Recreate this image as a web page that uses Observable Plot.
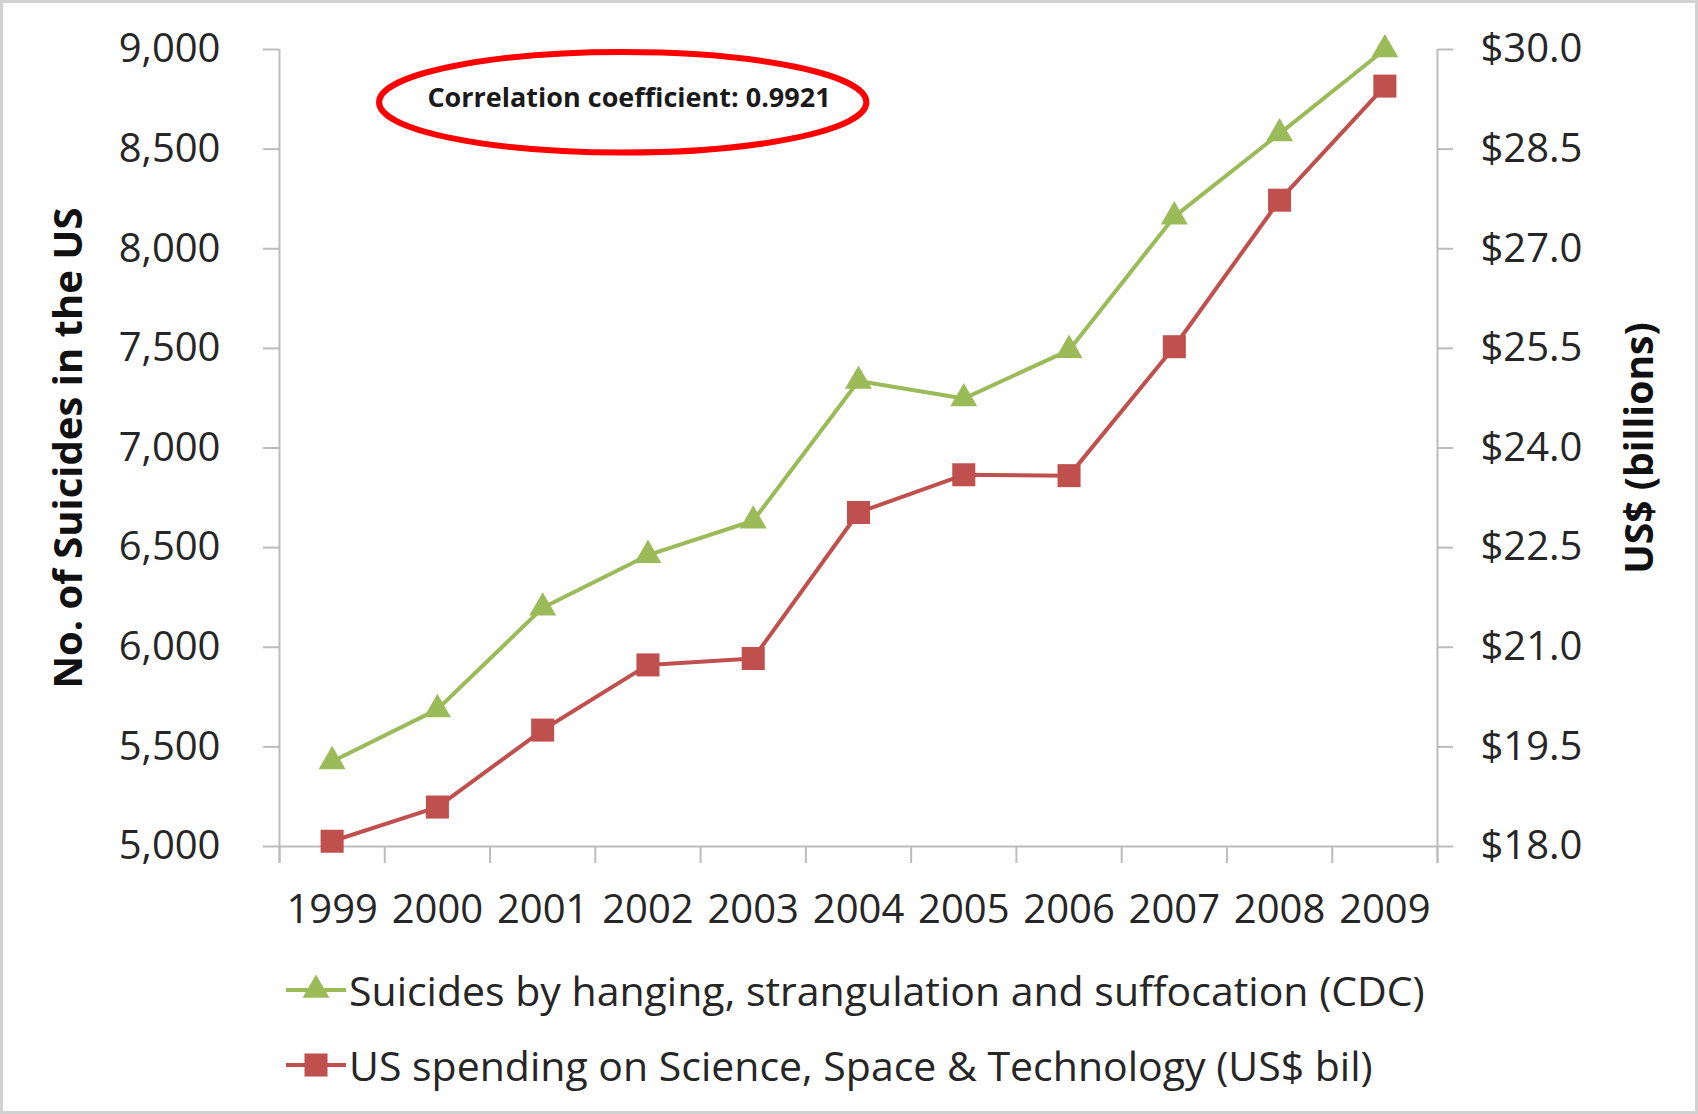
<!DOCTYPE html>
<html>
<head>
<meta charset="utf-8">
<script src="https://cdn.jsdelivr.net/npm/d3@7"></script>
<script src="https://cdn.jsdelivr.net/npm/@observablehq/plot@0.6"></script>
<style>
  html, body { margin: 0; padding: 0; background: #ffffff; }
  #frame { position: relative; width: 1698px; height: 1114px; overflow: hidden; background: #fff;
           font-family: "Open Sans", sans-serif; color: #262626; }
  #chart { position: absolute; left: 0; top: 0; }
  #border { position: absolute; left: 0; top: 0; width: 1698px; height: 1114px; box-sizing: border-box;
            border: 3px solid #d2d2d2; pointer-events: none; }
  #legend { position: absolute; left: 286px; top: 952px; }
  .lg-row { display: flex; align-items: center; height: 75px; font-size: 41px; color: #262626; white-space: nowrap; }
  .lg-row svg { flex: none; margin-right: 3px; }
</style>
</head>
<body>
<div id="frame">
  <div id="chart"></div>
  <div id="legend"></div>
  <div id="border"></div>
</div>
<script>
// ---------- data ----------
const years = [1999, 2000, 2001, 2002, 2003, 2004, 2005, 2006, 2007, 2008, 2009];
const suicides = [5427, 5688, 6198, 6462, 6635, 7336, 7248, 7491, 8161, 8578, 9000];
const spending = [18.079, 18.594, 19.753, 20.734, 20.831, 23.029, 23.597, 23.584, 25.525, 27.731, 29.449];
const leftTicks = [5000, 5500, 6000, 6500, 7000, 7500, 8000, 8500, 9000];
const rightTicks = [18.0, 19.5, 21.0, 22.5, 24.0, 25.5, 27.0, 28.5, 30.0];
const seriesNames = [
  "Suicides by hanging, strangulation and suffocation (CDC)",
  "US spending on Science, Space & Technology (US$ bil)"
];
const leftTitle = "No. of Suicides in the US";
const rightTitle = "US$ (billions)";
const annotation = [{ x: 2001.82, y: 8755, label: "Correlation coefficient: 0.9921" }];
const annotationBox = { x1: 1999.45, x2: 2004.08, y1: 8480, y2: 8985 };

// ---------- styles ----------
const GREEN = "#9bbb59";
const RED = "#c0504d";
const AXIS = "#bcbcbc";
const TEXT = "#262626";

// right axis ($ bil) mapped onto the left axis (count) domain
const r0 = rightTicks[0], r1 = rightTicks[rightTicks.length - 1];
const l0 = leftTicks[0], l1 = leftTicks[leftTicks.length - 1];
const toLeft = v => l0 + (v - r0) * (l1 - l0) / (r1 - r0);
const fromLeft = v => r0 + (v - l0) * (r1 - r0) / (l1 - l0);

const rows = years.map((yr, i) => ({ year: yr, suicides: suicides[i], spending: toLeft(spending[i]) }));
const boundaries = years.map(y => y - 0.5).concat([years[years.length - 1] + 0.5]);

const W = 1698, H = 950;
const plot = Plot.plot({
  width: W,
  height: H,
  marginTop: 49,
  marginBottom: H - 846,
  marginLeft: 279,
  marginRight: W - 1437,
  style: { fontFamily: '"Open Sans", sans-serif', color: TEXT, background: "transparent", overflow: "visible" },
  x: { type: "linear", domain: [boundaries[0], boundaries[boundaries.length - 1]] },
  y: { type: "linear", domain: [l0, l1] },
  marks: [
    // axis frame lines
    Plot.ruleY([l0], { stroke: AXIS, strokeWidth: 2 }),
    Plot.ruleX([boundaries[0], boundaries[boundaries.length - 1]], { stroke: AXIS, strokeWidth: 2, insetBottom: -17 }),
    // category boundary ticks
    Plot.axisX({ ticks: boundaries, tickSize: 17, tickFormat: () => "", stroke: AXIS, strokeWidth: 2, label: null }),
    // year labels
    Plot.axisX({ ticks: years, tickSize: 0, tickPadding: 48, tickFormat: d => String(d), fontSize: 40,
                 fill: TEXT, label: null }),
    // left axis
    Plot.axisY({ ticks: leftTicks, tickSize: 16, tickPadding: 43, tickFormat: d3.format(","), fontSize: 40,
                 stroke: AXIS, strokeWidth: 2, fill: TEXT, label: null }),
    // right axis
    Plot.axisY({ anchor: "right", ticks: rightTicks.map(toLeft), tickSize: 15, tickPadding: 28,
                 tickFormat: d => "$" + fromLeft(d).toFixed(1), fontSize: 40,
                 stroke: AXIS, strokeWidth: 2, fill: TEXT, label: null }),
    // axis titles
    Plot.text([leftTitle], { text: d => d, frameAnchor: "left", textAnchor: "middle", lineAnchor: "middle",
                             dx: -210, rotate: -90, fontSize: 40, fontWeight: "bold", fill: "#111" }),
    Plot.text([rightTitle], { text: d => d, frameAnchor: "right", textAnchor: "middle", lineAnchor: "middle",
                              dx: 203, rotate: -90, fontSize: 39, fontWeight: "bold", fill: "#111" }),
    // series
    Plot.line(rows, { x: "year", y: "suicides", stroke: GREEN, strokeWidth: 4 }),
    Plot.dot(rows, { x: "year", y: "suicides", symbol: "triangle", r: 10, fill: GREEN, stroke: "none" }),
    Plot.line(rows, { x: "year", y: "spending", stroke: RED, strokeWidth: 4 }),
    Plot.dot(rows, { x: "year", y: "spending", symbol: "square", r: 13, fill: RED, stroke: "none" }),
    // annotation text
    Plot.text(annotation, { x: "x", y: "y", text: "label", fontSize: 27, fontWeight: "bold", fill: "#1a1a1a" })
  ]
});

// annotation ellipse positioned via the plot's scales
{
  const xs = plot.scale("x"), ys = plot.scale("y");
  const sx = d3.scaleLinear().domain(xs.domain).range(xs.range);
  const sy = d3.scaleLinear().domain(ys.domain).range(ys.range);
  const cx = (sx(annotationBox.x1) + sx(annotationBox.x2)) / 2;
  const cy = (sy(annotationBox.y1) + sy(annotationBox.y2)) / 2;
  const rx = Math.abs(sx(annotationBox.x2) - sx(annotationBox.x1)) / 2;
  const ry = Math.abs(sy(annotationBox.y2) - sy(annotationBox.y1)) / 2;
  d3.select(plot).append("ellipse")
    .attr("cx", cx).attr("cy", cy).attr("rx", rx).attr("ry", ry)
    .attr("fill", "none").attr("stroke", "#ff0000").attr("stroke-width", 6);
}

document.getElementById("chart").appendChild(plot);

// ---------- legend ----------
const legend = d3.select("#legend");
const swatches = [
  { color: GREEN, symbol: d3.symbolTriangle, size: Math.PI * 10 * 10 },
  { color: RED, symbol: d3.symbolSquare, size: Math.PI * 13 * 13 }
];
seriesNames.forEach((name, i) => {
  const row = legend.append("div").attr("class", "lg-row");
  const s = row.append("svg").attr("width", 60).attr("height", 40);
  s.append("line").attr("x1", 0).attr("x2", 60).attr("y1", 20).attr("y2", 20)
    .attr("stroke", swatches[i].color).attr("stroke-width", 4);
  s.append("path").attr("transform", "translate(30,20)")
    .attr("d", d3.symbol(swatches[i].symbol, swatches[i].size)())
    .attr("fill", swatches[i].color);
  row.append("span").text(name);
});
</script>
</body>
</html>
